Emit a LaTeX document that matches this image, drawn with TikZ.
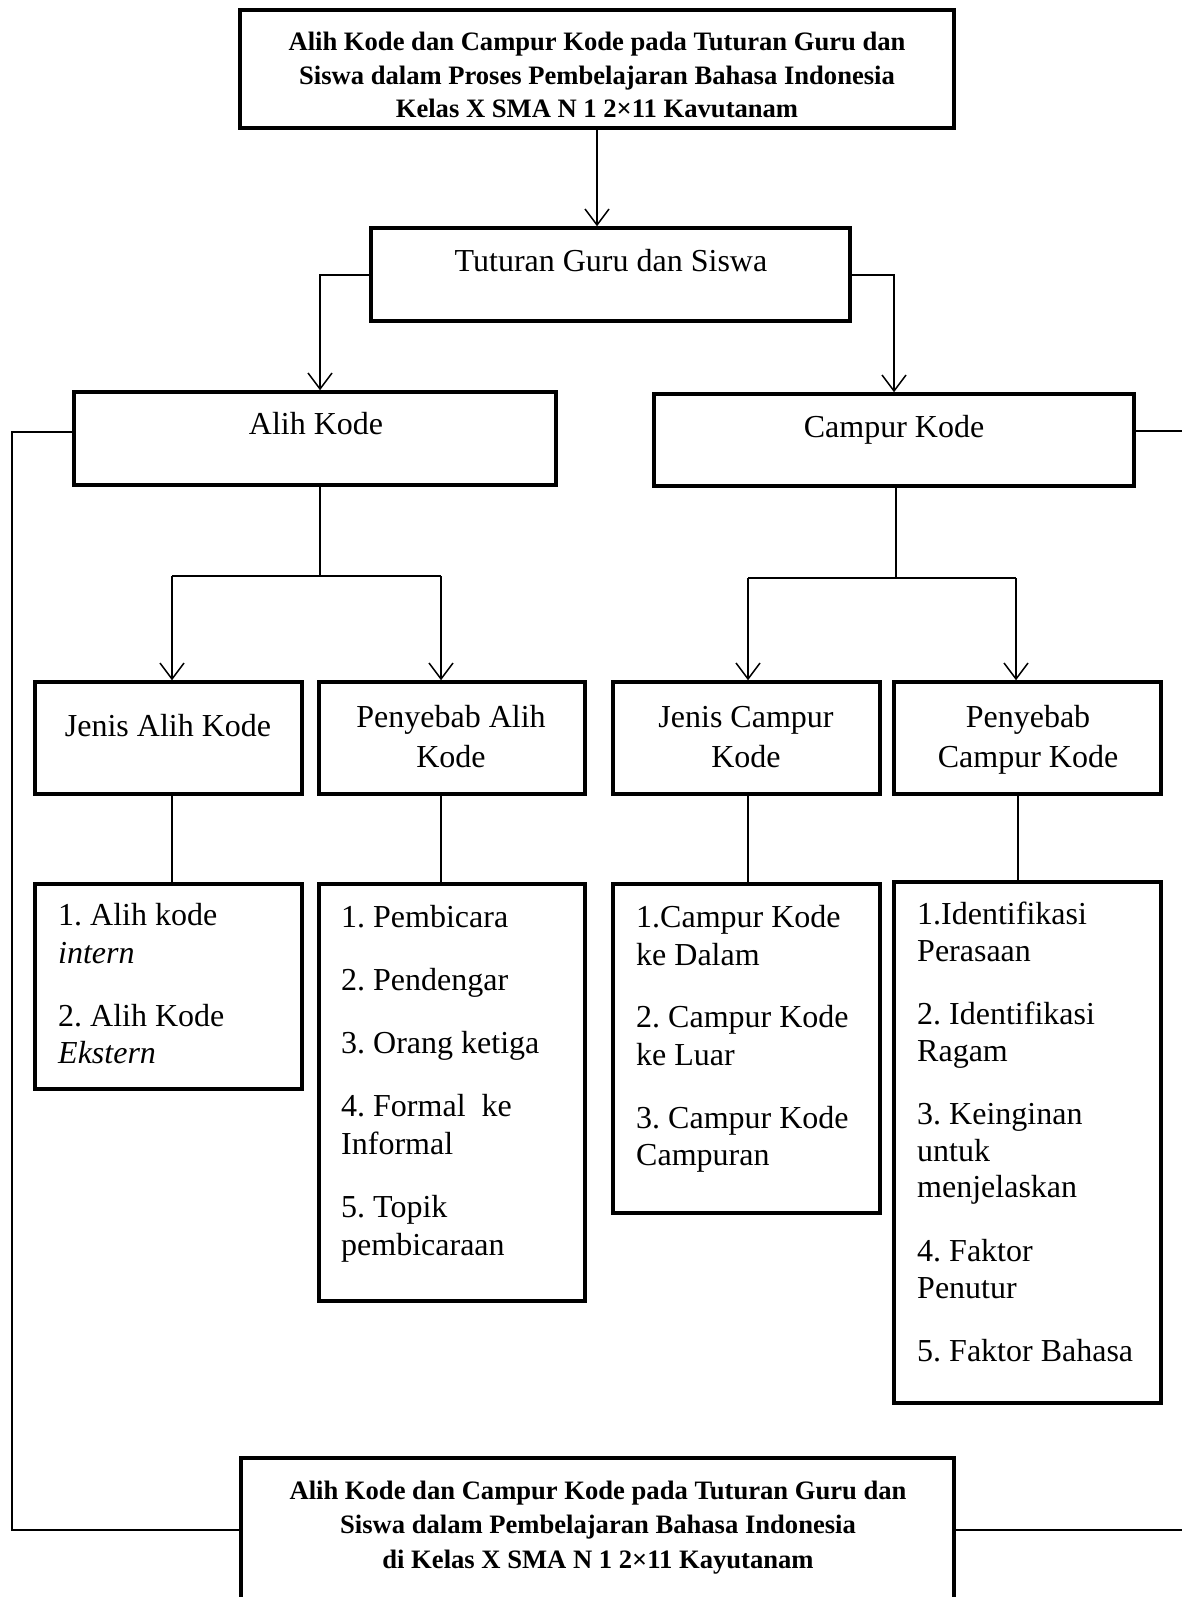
\documentclass[tikz,border=0pt]{standalone}
\usepackage{fontspec}
\setmainfont{Liberation Serif}
\usetikzlibrary{arrows.meta}
\frenchspacing
\begin{document}
\frenchspacing
\begin{tikzpicture}[x=1pt,y=-1pt,
  box/.style={draw, line width=3.5pt, inner sep=0pt},
  conn/.style={line width=1.5pt},
  arr/.style={line width=1.5pt, -{Straight Barb[length=16pt,width=24pt]}},
  txt/.style={inner sep=0pt, font=\fontsize{32}{37.7}\selectfont},
  btxt/.style={inner sep=0pt, font=\fontsize{26.6}{33.5}\selectfont\bfseries}]
\useasboundingbox (0,0) rectangle (1181,1597);
% boxes
\node[box, minimum width=714pt, minimum height=118pt] (top) at (597,69) {};
\node[box, minimum width=479pt, minimum height=93pt] (tut) at (610.5,274.5) {};
\node[box, minimum width=482pt, minimum height=93pt] (alih) at (315,438.5) {};
\node[box, minimum width=480pt, minimum height=92pt] (camp) at (894,440) {};
\node[box, minimum width=267pt, minimum height=112pt] (jak) at (168.5,738) {};
\node[box, minimum width=266pt, minimum height=112pt] (pak) at (452,738) {};
\node[box, minimum width=267pt, minimum height=112pt] (jck) at (746.5,738) {};
\node[box, minimum width=267pt, minimum height=112pt] (pck) at (1027.5,738) {};
\node[box, minimum width=267pt, minimum height=205pt] (l1) at (168.5,986.5) {};
\node[box, minimum width=266pt, minimum height=417pt] (l2) at (452,1092.5) {};
\node[box, minimum width=267pt, minimum height=329pt] (l3) at (746.5,1048.5) {};
\node[box, minimum width=267pt, minimum height=521pt] (l4) at (1027.5,1142.5) {};
\node[box, minimum width=713pt, minimum height=162pt] (bot) at (597.5,1539) {};
% titles
\node[btxt, anchor=base] (ta) at (597,51) {Alih Kode dan Campur Kode pada Tuturan Guru dan};
\node[btxt, anchor=base] (tb) at (597,84.5) {Siswa dalam Proses Pembelajaran Bahasa Indonesia};
\node[btxt, anchor=base] (tc) at (597,118) {Kelas X SMA N 1 2×11 Kavutanam};
\node[btxt, anchor=base] (ba) at (598,1499) {Alih Kode dan Campur Kode pada Tuturan Guru dan};
\node[btxt, anchor=base] (bb) at (598,1533.5) {Siswa dalam Pembelajaran Bahasa Indonesia};
\node[btxt, anchor=base] (bc) at (598,1568) {di Kelas X SMA N 1 2×11 Kayutanam};
% level labels
\node[txt, anchor=base] (tuttx) at (611,271) {Tuturan Guru dan Siswa};
\node[txt, anchor=base] (alihtx) at (316,434) {Alih Kode};
\node[txt, anchor=base] (camptx) at (894,437) {Campur Kode};
\node[txt, anchor=base] (jaktx) at (168,736) {Jenis Alih Kode};
\node[txt, anchor=base] (paktxa) at (451,727) {Penyebab Alih};
\node[txt, anchor=base] (paktxb) at (451,767) {Kode};
\node[txt, anchor=base] (jcktxa) at (746,727) {Jenis Campur};
\node[txt, anchor=base] (jcktxb) at (746,767) {Kode};
\node[txt, anchor=base] (pcktxa) at (1028,727) {Penyebab};
\node[txt, anchor=base] (pcktxb) at (1028,767) {Campur Kode};
% list 1
\node[txt, anchor=base west] (l1a) at (58,925) {1. Alih kode};
\node[txt, anchor=base west] (l1b) at (58,963) {\itshape intern};
\node[txt, anchor=base west] (l1c) at (58,1026) {2. Alih Kode};
\node[txt, anchor=base west] (l1d) at (58,1063) {\itshape Ekstern};
% list 2
\node[txt, anchor=base west] (l2a) at (341,927) {1. Pembicara};
\node[txt, anchor=base west] (l2b) at (341,990) {2. Pendengar};
\node[txt, anchor=base west] (l2c) at (341,1053) {3. Orang ketiga};
\node[txt, anchor=base west] (l2d) at (341,1116.5) {4. Formal\ \ ke};
\node[txt, anchor=base west] (l2e) at (341,1154) {Informal};
\node[txt, anchor=base west] (l2f) at (341,1217) {5. Topik};
\node[txt, anchor=base west] (l2g) at (341,1255) {pembicaraan};
% list 3
\node[txt, anchor=base west] (l3a) at (636,927) {1.Campur Kode};
\node[txt, anchor=base west] (l3b) at (636,965) {ke Dalam};
\node[txt, anchor=base west] (l3c) at (636,1027) {2. Campur Kode};
\node[txt, anchor=base west] (l3d) at (636,1065) {ke Luar};
\node[txt, anchor=base west] (l3e) at (636,1128) {3. Campur Kode};
\node[txt, anchor=base west] (l3f) at (636,1165) {Campuran};
% list 4
\node[txt, anchor=base west] (l4a) at (917,924) {1.Identifikasi};
\node[txt, anchor=base west] (l4b) at (917,961) {Perasaan};
\node[txt, anchor=base west] (l4c) at (917,1024) {2. Identifikasi};
\node[txt, anchor=base west] (l4d) at (917,1061) {Ragam};
\node[txt, anchor=base west] (l4e) at (917,1124) {3. Keinginan};
\node[txt, anchor=base west] (l4f) at (917,1161) {untuk};
\node[txt, anchor=base west] (l4g) at (917,1197) {menjelaskan};
\node[txt, anchor=base west] (l4h) at (917,1261) {4. Faktor};
\node[txt, anchor=base west] (l4i) at (917,1298) {Penutur};
\node[txt, anchor=base west] (l4j) at (917,1361) {5. Faktor Bahasa};
% junction coordinates
\coordinate (ja) at (320,576);
\coordinate (jl) at (172,576);
\coordinate (jr) at (441,576);
\coordinate (jc) at (896,578);
\coordinate (jcl) at (748,578);
\coordinate (jcr) at (1016,578);
\coordinate (ta1) at (320,275);
\coordinate (tc1) at (894,275);
\coordinate (lt) at (12,432);
\coordinate (lb) at (12,1530);
\coordinate (rt) at (1185,431);
\coordinate (rb) at (1185,1530);
\coordinate (j4) at (1018,800);
% connectors
\draw[arr] (top.south) -- (top.south |- tut.north);
\draw[arr] (tut.west |- ta1) -- (ta1) -- (ta1 |- alih.north);
\draw[arr] (tut.east |- tc1) -- (tc1) -- (tc1 |- camp.north);
\draw[conn] (ja |- alih.south) -- (ja);
\draw[conn] (jl) -- (jr);
\draw[arr] (jl) -- (jl |- jak.north);
\draw[arr] (jr) -- (jr |- pak.north);
\draw[conn] (jc |- camp.south) -- (jc);
\draw[conn] (jcl) -- (jcr);
\draw[arr] (jcl) -- (jcl |- jck.north);
\draw[arr] (jcr) -- (jcr |- pck.north);
\draw[conn] (jl |- jak.south) -- (jl |- l1.north);
\draw[conn] (jr |- pak.south) -- (jr |- l2.north);
\draw[conn] (jcl |- jck.south) -- (jcl |- l3.north);
\draw[conn] (j4 |- pck.south) -- (j4 |- l4.north);
\draw[conn] (lt -| alih.west) -- (lt) -- (lb) -- (lb -| bot.west);
\draw[conn] (rt -| camp.east) -- (rt) -- (rb) -- (rb -| bot.east);
\end{tikzpicture}
\end{document}
